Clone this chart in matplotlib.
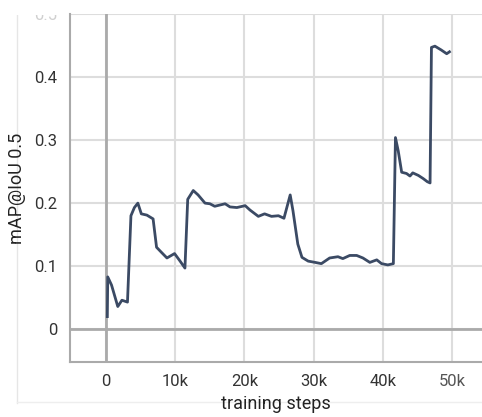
import matplotlib.pyplot as plt
from matplotlib.lines import Line2D
from matplotlib.patches import Rectangle

# values (steps in thousands, mAP)
steps_k = [0.19, 0.25, 0.8, 1.7, 2.3, 3.1, 3.6, 4.1, 4.6, 5.1, 5.9, 6.8, 7.3, 8.0,
           8.8, 9.9, 10.7, 11.4, 11.8, 12.6, 13.3, 14.3, 15.0, 15.7, 17.2, 17.9,
           18.9, 20.1, 20.8, 22.0, 22.9, 23.9, 24.9, 25.7, 26.6, 27.0, 27.7, 28.3,
           29.2, 30.2, 31.1, 32.3, 33.5, 34.2, 35.2, 36.2, 37.1, 38.1, 39.1, 39.8,
           40.7, 41.5, 41.8, 42.2, 42.7, 43.4, 43.9, 44.3, 45.1, 45.8, 46.4, 46.8,
           47.0, 47.5, 48.4, 49.2, 49.6]
map_values = [0.020, 0.083, 0.070, 0.036, 0.046, 0.043, 0.180, 0.193, 0.200, 0.183,
              0.181, 0.175, 0.130, 0.122, 0.113, 0.120, 0.108, 0.097, 0.206, 0.220,
              0.213, 0.200, 0.199, 0.195, 0.199, 0.194, 0.193, 0.196, 0.189, 0.179,
              0.183, 0.179, 0.180, 0.176, 0.213, 0.188, 0.135, 0.114, 0.108, 0.106,
              0.104, 0.113, 0.115, 0.112, 0.117, 0.117, 0.113, 0.106, 0.110, 0.104,
              0.102, 0.104, 0.304, 0.283, 0.249, 0.247, 0.243, 0.248, 0.244, 0.239,
              0.234, 0.232, 0.447, 0.449, 0.443, 0.437, 0.440]
x_ticks = [0, 10000, 20000, 30000, 40000, 50000]
x_labels = ['0', '10k', '20k', '30k', '40k', '50k']
y_ticks = [0, 0.1, 0.2, 0.3, 0.4, 0.5]
y_labels = ['0', '0.1', '0.2', '0.3', '0.4', '0.5']

plt.rcParams['font.family'] = ['Roboto', 'DejaVu Sans']

fig = plt.figure(figsize=(4.82, 4.17), dpi=100)
ax = fig.add_axes([70 / 482, 55 / 417, 412 / 482, 348 / 417])

steps = [s * 1000 for s in steps_k]
ax.plot(steps, map_values, color='#3b4a64', lw=2, solid_joinstyle='round', zorder=3)

ax.set_xlim(-5200, 54300)
ax.set_ylim(-0.052, 0.498)
ax.set_xticks(x_ticks)
ax.set_xticklabels(x_labels)
ax.set_yticks(y_ticks)
ax.set_yticklabels(y_labels)
ax.grid(color='#dddddd', lw=1.5)
ax.axhline(0, color='#aaaaaa', lw=2, zorder=2)
ax.axvline(0, color='#aaaaaa', lw=2, zorder=2)

for side in ['top', 'right']:
    ax.spines[side].set_visible(False)
for side in ['left', 'bottom']:
    ax.spines[side].set_color('#aaaaaa')
    ax.spines[side].set_linewidth(1.5)

ax.tick_params(length=0, pad=9, labelsize=12, labelcolor='#333333')
# the top and right-most labels fade out in the reference
ax.get_yticklabels()[-1].set_color('#d0d0d0')
ax.get_xticklabels()[-1].set_color('#555555')
ax.set_xlabel('training steps', fontsize=13, color='#222222', labelpad=4)
ax.set_ylabel('mAP@IoU 0.5', fontsize=13, color='#222222', labelpad=6)

# the top of the "0.5" label is cut off
fig.add_artist(Rectangle((0, 1 - 15 / 417), 68 / 482, 15 / 417, facecolor='white',
                         edgecolor='none', transform=fig.transFigure, zorder=10))

# faint outer frame
fig.add_artist(Line2D([17 / 482, 17 / 482], [14 / 417, 1 - 3 / 417],
                      color='#e6e6e6', lw=1, transform=fig.transFigure, zorder=0))
fig.add_artist(Line2D([17 / 482, 1], [15 / 417, 15 / 417],
                      color='#eeeeee', lw=1, transform=fig.transFigure, zorder=0))

fig.savefig('out.png', dpi=100)
